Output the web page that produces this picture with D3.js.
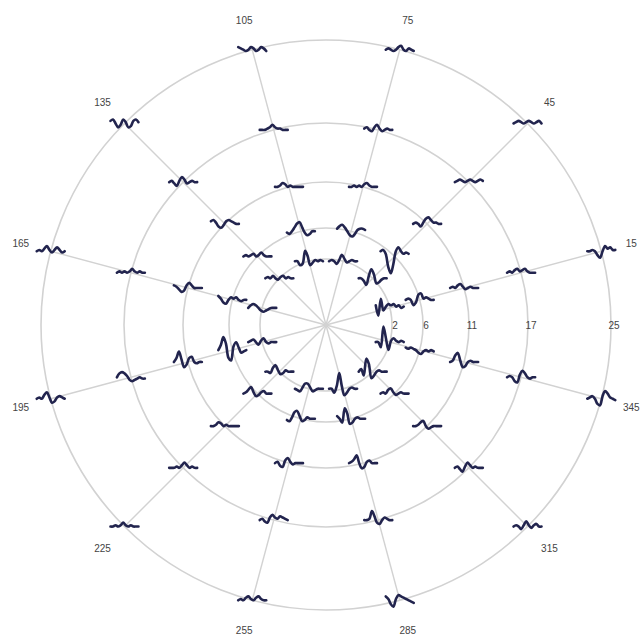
<!DOCTYPE html>
<html>
<head>
<meta charset="utf-8">
<script src="https://cdn.jsdelivr.net/npm/d3@7"></script>
<style>
  html, body { margin: 0; padding: 0; background: #fff; }
  svg { display: block; }
</style>
</head>
<body>
<svg id="chart" width="641" height="637"></svg>
<script>
// Spoke directions (degrees, counter-clockwise from the right-hand horizontal)
const angles = [15, 45, 75, 105, 135, 165, 195, 225, 255, 285, 315, 345];

// Ring eccentricities shown along the 0° direction
const ringValues = [2, 6, 11, 17, 25];

// Response traces per ring, one trace per spoke (same order as `angles`),
// each trace sampled at 12 equally spaced time points (positive = upward)
const waveRing1 = [
  [2, -6, 7, -2, 1, 3, 2, 3, 1, 2, 0, 1],
  [0, 0, -2, -5, 2, 7, 3, -4, -3, -1, 0, 0],
  [0, 1, 0, -2, 1, 5, 2, -1, 0, 1, 0, 0],
  [0, 0, -3, -2, 8, 4, -3, -1, 1, 0, 1, 0],
  [0, 1, 0, 2, 0, -1, 1, 2, 0, 1, 0, 0],
  [0, 2, 3, 2, 0, -2, -3, -2, -1, 0, 0, 0],
  [0, 1, 2, 0, -2, 1, 3, 0, -1, 0, 0, 0],
  [0, 0, -1, 3, 5, 1, -2, -1, 1, 0, 0, 0],
  [0, -1, -2, 1, 4, 4, 1, -2, -1, 0, 0, 0],
  [0, 0, -3, 2, 12, 2, -5, -3, 0, 1, 0, 0],
  [0, 2, -3, 10, 6, -5, -3, 0, 1, 0, 0, 0],
  [0, 0, -4, 12, 3, -6, 1, 3, 1, 0, 1, 0]
];
const waveRing2 = [
  [0, 1, 0, -4, -2, 4, 5, 1, 2, 1, 0, 0],
  [4, 5, 2, -8, -13, -6, 4, 7, 4, 2, 3, 2],
  [2, 4, 5, 3, 0, -3, -4, -2, 1, 2, 2, 1],
  [-1, -2, 0, 3, 6, 7, 3, -1, -3, -2, 0, 0],
  [0, 1, 0, 1, 2, 0, 1, 3, 1, 0, 0, 0],
  [3, 1, -2, -3, 0, 2, 1, 2, 0, -1, 0, 0],
  [0, 4, 10, 5, -6, -8, 3, 6, 2, -2, -1, 0],
  [0, 1, 3, 5, 1, -2, -1, 1, 2, 0, 0, 0],
  [-1, -2, 1, 5, 6, 2, -2, -1, 1, 0, 0, 0],
  [2, 0, -3, 8, 4, -4, -3, 0, 1, 0, 0, 0],
  [0, 1, 0, 3, 4, 1, -1, 0, 1, 0, 0, 0],
  [2, 1, 2, 1, 0, -2, -3, -1, 0, -1, 0, -1]
];
const waveRing3 = [
  [0, 1, 0, 2, 3, 1, -1, 0, 1, 0, 0, 0],
  [0, 1, 0, -2, 1, 4, 5, 3, 1, 1, 0, 0],
  [0, 0, 1, 0, 1, 0, 2, 3, 1, 0, 0, 0],
  [0, 0, 1, 3, 2, 0, 1, 0, 0, 0, 0, 0],
  [2, 3, 1, -2, -3, -1, 2, 3, 2, 1, 0, 0],
  [2, 1, -1, -3, -2, 2, 4, 2, 0, 0, 0, 0],
  [0, 3, 8, 2, -4, -2, 3, 4, 0, -1, 0, 0],
  [0, 0, 1, 3, 2, 0, 1, 0, 0, 0, 0, 0],
  [0, 1, -2, -3, 2, 4, 1, -1, 0, 0, 0, 0],
  [0, 1, 3, 6, 0, -4, -3, 1, 2, 0, 0, 0],
  [0, 0, 1, 3, 4, 0, -2, -1, 0, 0, 0, 0],
  [0, 1, 5, 7, 1, -4, -3, 0, 1, 0, 0, 0]
];
const waveRing4 = [
  [0, 1, 0, 2, 3, 1, 2, 3, 1, 0, 0, 0],
  [0, 1, 2, 1, 0, 1, 2, 1, 0, 1, 2, 1],
  [1, 2, 0, -1, 2, 4, 1, -1, 0, 1, 0, 0],
  [0, 0, 0, 1, 2, 4, 2, 1, 1, 0, 0, 0],
  [0, 1, -1, -3, 1, 4, 2, -1, 0, 1, 0, 0],
  [0, 1, 0, 1, 0, 1, 3, 1, 0, 1, 0, 0],
  [0, 3, 4, 3, 1, -2, -3, -2, -1, 0, -1, -1],
  [0, 0, 0, 1, 0, 2, 4, 2, 0, 1, 0, 0],
  [0, 1, -1, -2, 2, 4, 2, 1, 3, 2, 1, 0],
  [0, 0, 1, 7, 3, -2, -3, 0, 2, 1, 0, 0],
  [0, 1, -1, -3, 1, 4, 2, 0, 1, 0, 0, 0],
  [0, 1, 0, -3, -4, 2, 5, 3, 0, -1, 0, 0]
];
const waveRing5 = [
  [0, 0, 1, 0, -3, -5, 0, 4, 2, 3, 1, 1],
  [0, 1, 2, 1, 0, 1, 2, 1, 0, 1, 2, 0],
  [0, 1, 0, -1, 0, 2, 3, 0, -1, 1, 0, -1],
  [2, 1, 0, -1, 0, 2, 1, -1, 0, 2, 1, -1],
  [2, 3, 0, -3, -1, 3, 1, -3, -2, 2, 3, 1],
  [0, 1, 0, 2, 4, 1, -1, 1, 3, 1, -1, 0],
  [0, 1, 0, 3, 5, 1, -3, -2, 1, 2, 1, 0],
  [0, 0, 1, 0, 1, 3, 1, 0, 1, 0, 0, 0],
  [0, 1, 0, 2, 3, 1, 0, 2, 3, 1, 0, 0],
  [3, 1, -3, -5, 1, 4, 3, 2, 1, 0, -1, -2],
  [0, 1, 0, -2, 1, 4, 1, -1, 1, 2, 0, 0],
  [0, 1, 2, 0, -4, -5, 2, 6, 4, 1, 0, -1]
];
const waves = [waveRing1, waveRing2, waveRing3, waveRing4, waveRing5];

// ---- layout ----
const svg = d3.select("#chart");
const cx = 326, cy = 325;

// radial position of each ring value
const rScale = d3.scaleLinear()
  .domain(ringValues)
  .range([66, 97, 143, 202, 285]);
const rMax = rScale(ringValues[ringValues.length - 1]);

const rad = a => a * Math.PI / 180;
const polar = (a, r) => [cx + r * Math.cos(rad(a)), cy - r * Math.sin(rad(a))];

const g = svg.append("g");

// concentric rings
g.selectAll("circle.ring")
  .data(ringValues)
  .join("circle")
  .attr("class", "ring")
  .attr("cx", cx).attr("cy", cy)
  .attr("r", d => rScale(d))
  .attr("fill", "none")
  .attr("stroke", "#d2d2d2")
  .attr("stroke-width", 1.6);

// spokes
g.selectAll("line.spoke")
  .data(angles)
  .join("line")
  .attr("class", "spoke")
  .attr("x1", cx).attr("y1", cy)
  .attr("x2", d => polar(d, rMax)[0])
  .attr("y2", d => polar(d, rMax)[1])
  .attr("stroke", "#d2d2d2")
  .attr("stroke-width", 1.4);

// ring value labels along 0°
g.selectAll("text.rlab")
  .data(ringValues)
  .join("text")
  .attr("class", "rlab")
  .attr("x", d => cx + rScale(d) + 3)
  .attr("y", cy + 4)
  .attr("text-anchor", "middle")
  .attr("font-family", "Liberation Sans, Arial, sans-serif")
  .attr("font-size", 10)
  .attr("fill", "#444")
  .text(d => d);

// angle labels outside the outer ring
g.selectAll("text.alab")
  .data(angles)
  .join("text")
  .attr("class", "alab")
  .attr("x", d => polar(d, rMax + 31)[0])
  .attr("y", d => polar(d, rMax + 31)[1] + 4)
  .attr("text-anchor", "middle")
  .attr("font-family", "Liberation Sans, Arial, sans-serif")
  .attr("font-size", 10)
  .attr("fill", "#444")
  .text(d => d);

// trace scales: time across 28 px, amplitude in px-equivalent units
const tScale = d3.scaleLinear().domain([0, 11]).range([-14, 14]);
const vScale = d3.scaleLinear().domain([-10, 10]).range([13, -13]);
const trace = d3.line()
  .x((d, i) => tScale(i))
  .y(d => vScale(d))
  .curve(d3.curveCatmullRom.alpha(0.5));

const nodes = [];
waves.forEach((ring, ri) => {
  ring.forEach((w, ai) => {
    const [x, y] = polar(angles[ai], rScale(ringValues[ri]));
    nodes.push({ x, y, w });
  });
});

g.selectAll("path.trace")
  .data(nodes)
  .join("path")
  .attr("class", "trace")
  .attr("transform", d => `translate(${d.x},${d.y})`)
  .attr("d", d => trace(d.w))
  .attr("fill", "none")
  .attr("stroke", "#22244e")
  .attr("stroke-width", 2.6)
  .attr("stroke-linejoin", "round")
  .attr("stroke-linecap", "round");
</script>
</body>
</html>
